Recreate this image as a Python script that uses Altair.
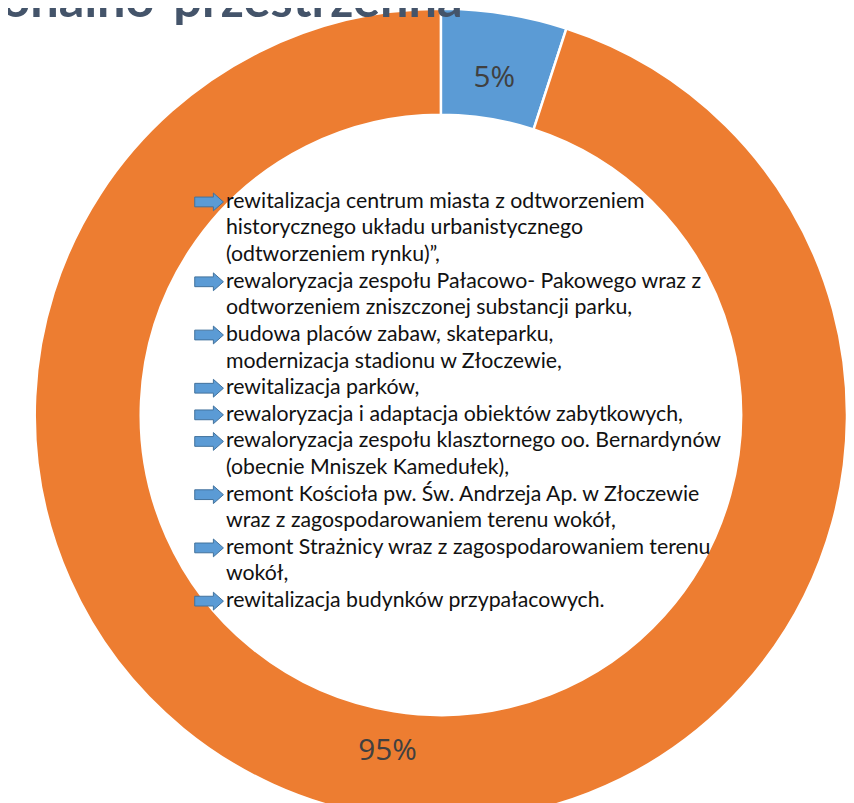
import altair as alt
import pandas as pd

# Donut data
slice_names = ["Kategoria A", "Kategoria B"]
slice_values = [5, 95]
slice_labels = ["5%", "95%"]
slice_colors = ["#5B9BD5", "#ED7D31"]

# Central text block
text_lines = [
    "rewitalizacja centrum miasta z odtworzeniem",
    "historycznego układu urbanistycznego",
    "(odtworzeniem rynku)”,",
    "rewaloryzacja zespołu Pałacowo- Pakowego wraz z",
    "odtworzeniem zniszczonej substancji parku,",
    "budowa placów zabaw, skateparku,",
    "modernizacja stadionu w Złoczewie,",
    "rewitalizacja parków,",
    "rewaloryzacja i adaptacja obiektów zabytkowych,",
    "rewaloryzacja zespołu klasztornego oo. Bernardynów",
    "(obecnie Mniszek Kamedułek),",
    "remont Kościoła pw. Św. Andrzeja Ap. w Złoczewie",
    "wraz z zagospodarowaniem terenu wokół,",
    "remont Strażnicy wraz z zagospodarowaniem terenu",
    "wokół,",
    "rewitalizacja budynków przypałacowych.",
]
bullet_rows = [0, 3, 5, 7, 8, 9, 11, 13, 15]

title_text = "funkcjonalno-przestrzenna"

pie_df = pd.DataFrame({
    "name": slice_names,
    "value": slice_values,
    "label": slice_labels,
    "idx": list(range(len(slice_names))),
})
lines_df = pd.DataFrame({"row": list(range(len(text_lines))), "text": text_lines})
bullets_df = pd.DataFrame({"row": bullet_rows})
title_df = pd.DataFrame({"t": [title_text]})

CX, CY = 437, 407

arc = alt.Chart(pie_df).mark_arc(
    outerRadius=410, innerRadius=303, stroke="white", strokeWidth=2.5
).encode(
    theta=alt.Theta("value:Q", stack=True),
    color=alt.Color("name:N", scale=alt.Scale(domain=slice_names, range=slice_colors), legend=None),
    order=alt.Order("idx:Q"),
    x=alt.value(CX),
    y=alt.value(CY),
)

pct = alt.Chart(pie_df).mark_text(
    radius=344, fontSize=30, font="Open Sans", color="#404040"
).encode(
    theta=alt.Theta("value:Q", stack=True),
    order=alt.Order("idx:Q"),
    text="label:N",
    x=alt.value(CX),
    y=alt.value(CY),
)

yscale = alt.Scale(domain=[0, 15], range=[192, 595])

lines = alt.Chart(lines_df).mark_text(
    align="left", baseline="middle", font="Lato", fontSize=21.5, color="#111111"
).encode(
    y=alt.Y("row:Q", scale=yscale, axis=None),
    x=alt.value(220),
    text="text:N",
)

arrow_path = "M-1,-0.34 L0.3,-0.34 L0.3,-0.62 L1,0 L0.3,0.62 L0.3,0.34 L-1,0.34 Z"
arrows = alt.Chart(bullets_df).mark_point(
    shape=arrow_path, size=840, filled=True, fill="#5B9BD5",
    stroke="#41719C", strokeWidth=1, opacity=1
).encode(
    y=alt.Y("row:Q", scale=yscale, axis=None),
    x=alt.value(203),
)

title = alt.Chart(title_df).mark_text(
    align="right", baseline="alphabetic", font="Lato", fontSize=51,
    fontWeight="bold", color="#44546A"
).encode(
    x=alt.value(459),
    y=alt.value(5),
    text="t:N",
)

chart = alt.layer(arc, pct, arrows, lines, title).properties(
    width=846, height=795, padding=0, autosize=alt.AutoSizeParams(type="none")
).configure_view(stroke=None)

chart.save("out.html", embed_options={"renderer": "svg", "actions": False})
